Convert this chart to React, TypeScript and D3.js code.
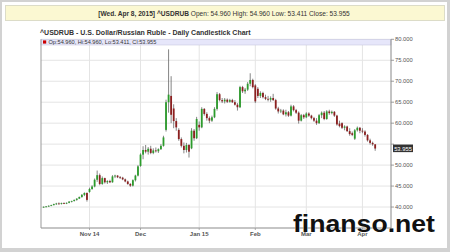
import React from "react";
import * as d3 from "d3";

// Daily OHLC, USDRUB, Oct 8 2014 .. Apr 8 2015 (weekdays)
const opens = [
  39.95, 40.05, 40.15, 40.3, 40.45, 40.7, 40.85, 40.75, 40.95, 40.8, 41.0, 41.3, 41.45, 41.7, 42.0, 42.4, 42.9, 43.35,
  43.6, 44.3, 44.9, 46.5, 47.6, 45.5, 46.9, 45.9, 46.2, 45.9, 47.3, 47.5, 47.1, 47.0, 46.6, 46.1, 45.5, 45.1, 46.4, 47.5,
  49.8, 52.5, 53.6, 53.2, 53.9, 52.9, 53.5, 53.3, 53.8, 54.6, 58.4, 65.0, 66.5, 63.5, 60.5, 58.4, 56.2, 54.6, 53.6, 54.8, 54.0, 58.2, 56.4,
  59.6, 59.0, 63.4, 62.2, 61.2, 60.6, 61.4, 63.4, 66.9, 65.5, 65.2, 65.6, 65.1, 65.5, 65.0, 64.4, 63.8, 68.6, 67.6, 68.0, 69.4, 70.3,
  69.0, 68.2, 66.5, 67.2, 66.2, 65.8, 65.6, 66.0, 65.5, 63.5, 62.8, 63.0, 62.1, 62.6, 61.8, 64.0, 63.1, 62.5, 60.6, 61.9,
  61.4, 62.3, 61.8, 61.2, 60.6, 60.0, 61.9, 62.5, 61.0, 62.8, 62.4, 62.7, 61.8, 59.9, 60.0, 58.9, 59.2, 58.1, 57.6, 56.3, 58.3, 58.9,
  58.2, 58.0, 57.2, 55.9, 55.3, 54.96,
];
const highs = [
  40.15, 40.25, 40.4, 40.55, 40.8, 41.0, 41.1, 41.05, 41.1, 41.1, 41.4, 41.5, 41.8, 42.1, 42.5, 43.1, 43.5, 43.5,
  44.6, 45.2, 46.8, 48.7, 48.0, 47.3, 47.0, 46.4, 46.5, 47.6, 47.7, 47.6, 47.4, 47.2, 46.8, 46.3, 45.7, 46.6, 47.7, 50.0,
  52.8, 54.5, 54.8, 54.3, 54.6, 54.0, 54.2, 54.0, 55.0, 57.0, 65.6, 77.6, 71.2, 64.5, 61.2, 58.8, 56.6, 55.4, 55.3, 55.0, 58.8, 58.6, 61.5,
  60.4, 63.8, 63.6, 62.6, 61.6, 61.8, 63.8, 67.4, 67.2, 66.0, 66.0, 65.9, 65.8, 65.8, 65.5, 64.8, 68.9, 68.9, 68.4, 69.8, 71.9, 70.6,
  69.3, 68.6, 67.6, 67.5, 66.8, 66.5, 66.4, 67.0, 65.8, 63.9, 63.4, 63.3, 63.2, 62.9, 64.4, 64.3, 63.4, 62.8, 62.2, 62.2,
  62.6, 62.6, 62.0, 61.5, 61.2, 62.2, 62.8, 62.9, 63.1, 63.2, 63.0, 62.9, 62.0, 60.6, 60.2, 59.5, 59.4, 58.8, 58.0, 58.6, 59.2, 59.1,
  58.8, 58.3, 57.4, 56.3, 55.6, 54.96,
];
const lows = [
  39.85, 39.95, 40.05, 40.2, 40.4, 40.5, 40.6, 40.6, 40.7, 40.7, 40.9, 41.1, 41.3, 41.5, 41.9, 42.2, 42.6, 41.3,
  43.4, 44.1, 44.7, 46.0, 45.2, 45.3, 45.6, 45.5, 45.7, 45.8, 46.9, 46.9, 46.7, 46.4, 45.9, 45.3, 44.8, 44.9, 46.1, 47.3,
  49.6, 51.4, 52.8, 52.5, 52.6, 52.6, 53.0, 52.9, 53.6, 54.4, 58.0, 62.5, 60.0, 58.8, 58.2, 55.8, 54.2, 52.8, 53.0, 51.8, 53.8, 55.8, 56.2,
  58.2, 58.8, 61.8, 60.6, 60.0, 60.3, 61.2, 63.0, 65.2, 64.8, 64.7, 64.8, 64.9, 64.8, 64.2, 63.0, 63.6, 67.2, 67.0, 67.7, 68.8, 68.3,
  64.8, 66.0, 66.0, 65.9, 65.5, 65.2, 65.1, 65.3, 63.2, 62.3, 62.4, 61.9, 61.6, 61.5, 61.6, 62.8, 62.2, 59.9, 60.4, 61.0,
  61.2, 61.5, 60.9, 60.3, 59.6, 59.8, 61.2, 60.7, 60.8, 62.0, 62.1, 61.5, 59.4, 59.0, 58.6, 58.3, 57.9, 57.0, 56.9, 56.0, 58.0, 57.6,
  57.6, 56.8, 55.6, 54.9, 54.6, 53.411,
];
const closes = [
  40.05, 40.15, 40.3, 40.45, 40.7, 40.85, 40.75, 40.95, 40.8, 41.0, 41.3, 41.45, 41.7, 42.0, 42.4, 42.9, 43.35, 41.7,
  44.3, 44.9, 46.5, 47.6, 45.5, 46.9, 45.9, 46.2, 45.9, 47.3, 47.5, 47.1, 47.0, 46.6, 46.1, 45.5, 45.1, 46.4, 47.5, 49.7,
  52.5, 53.6, 53.2, 53.9, 52.9, 53.5, 53.3, 53.8, 54.6, 56.6, 65.0, 66.8, 62.0, 60.5, 59.0, 56.2, 54.6, 53.6, 54.8, 53.2, 58.2, 56.4, 61.0,
  59.0, 63.4, 62.2, 61.2, 60.6, 61.4, 63.4, 66.9, 65.5, 65.2, 65.6, 65.1, 65.5, 65.0, 64.4, 63.8, 68.6, 67.6, 68.0, 69.4, 70.3, 68.6,
  65.2, 66.5, 67.2, 66.2, 65.8, 65.6, 66.0, 65.5, 63.5, 62.8, 63.0, 62.1, 62.6, 61.8, 64.0, 63.1, 62.5, 60.6, 61.9, 61.4,
  62.3, 61.8, 61.2, 60.6, 60.0, 61.9, 62.5, 61.0, 62.8, 62.4, 62.7, 61.8, 59.7, 59.3, 58.9, 59.2, 58.1, 57.4, 57.2, 58.3, 58.9, 58.2,
  58.0, 57.2, 55.9, 55.3, 54.96, 53.955,
];

const yTicks = [40, 45, 50, 55, 60, 65, 70, 75, 80];
const yTickLabelsShown = [40, 45, 50, 60, 65, 70, 75, 80];
const gridValues = [35, 40, 45, 50, 55, 60, 65, 70, 75, 80];
const monthLabels = ["Nov 14", "Dec", "Jan 15", "Feb", "Mar", "Apr"];
const monthStarts = ["2014-11-01", "2014-12-01", "2015-01-01", "2015-02-01", "2015-03-01", "2015-04-01"];

const headerBold = "[Wed. Apr 8, 2015] ^USDRUB";
const headerRest = " Open: 54.960 High: 54.960 Low: 53.411 Close: 53.955";
const title = "^USDRUB - U.S. Dollar/Russian Ruble - Daily Candlestick Chart";
const legendText = "Op:54.960, Hi:54.960, Lo:53.411, Cl:53.955";
const lastLabel = "53.955";
const watermark = "finanso.net";

const FONT = "'Liberation Sans', Arial, sans-serif";

export default function App() {
  const parse = d3.timeParse("%Y-%m-%d");
  const allDays = d3.timeDay.range(parse("2014-10-08")!, parse("2015-04-09")!);
  const dates = allDays.filter((d) => d.getDay() !== 0 && d.getDay() !== 6);
  const n = Math.min(dates.length, opens.length);

  const left = 41, right = 391, top = 39.3, bottom = 228;
  const x = d3.scaleLinear().domain([-1.02, 136.2]).range([left, right]);
  const y = d3.scaleLinear().domain([35, 80]).range([bottom, top]);

  const monthIdx = monthStarts.map((m) => {
    const t = parse(m)!.getTime();
    return dates.findIndex((d) => d.getTime() >= t);
  });

  const bw = 1.8;
  const green = "#2c9c2c";
  const red = "#8c1f1f";
  const yLast = y(closes[n - 1]);

  return (
    <svg width={450} height={252} style={{ position: "absolute", left: 0, top: 0 }} fontFamily={FONT}>
      <rect x={0} y={0} width={450} height={252} fill="#d2d2d2" />
      <rect x={2} y={2} width={445} height={246} fill="#ffffff" />
      {/* header */}
      <rect x={5.5} y={5.5} width={439} height={15} fill="#fbf8d2" stroke="#dcdcc8" />
      <text x={224} y={15.6} textAnchor="middle" fontSize={6.6} fill="#333">
        <tspan fontWeight="bold">{headerBold}</tspan>
        <tspan>{headerRest}</tspan>
      </text>
      {/* title */}
      <text x={40} y={34.5} fontSize={7} fontWeight="bold" fill="#333">{title}</text>

      {/* grid */}
      {gridValues.map((v) => (
        <line key={"g" + v} x1={left} x2={right} y1={y(v)} y2={y(v)} stroke="#e4e4e4" strokeWidth={1} />
      ))}
      {monthIdx.map((i, k) => (
        <line key={"v" + k} x1={x(i)} x2={x(i)} y1={top} y2={bottom} stroke="#e4e4e4" strokeWidth={1} />
      ))}

      {/* legend band */}
      <rect x={left} y={top} width={right - left} height={5.7} fill="#e6e6fa" stroke="#c8c8e0" strokeWidth={0.6} />
      <rect x={43} y={40.4} width={3.2} height={3.2} fill="#cc0000" />
      <text x={48.5} y={44.2} fontSize={5.6} fill="#333">{legendText}</text>

      {/* candles */}
      {d3.range(n).map((i) => {
        const o = opens[i], h = highs[i], l = lows[i], c = closes[i];
        const up = c >= o;
        const cx = x(i);
        const yt = y(Math.max(o, c));
        const yb = y(Math.min(o, c));
        return (
          <g key={i}>
            <line x1={cx} x2={cx} y1={y(h)} y2={y(l)} stroke="#666" strokeWidth={0.8} />
            <rect x={cx - bw / 2} y={yt} width={bw} height={Math.max(0.8, yb - yt)} fill={up ? green : red} />
          </g>
        );
      })}

      {/* axes */}
      <line x1={left} x2={left} y1={top} y2={bottom} stroke="#999" strokeWidth={1} />
      <line x1={right} x2={right} y1={top} y2={bottom} stroke="#888" strokeWidth={1} />
      <line x1={left} x2={right} y1={bottom} y2={bottom} stroke="#999" strokeWidth={1} />
      {yTicks.map((v) => (
        <line key={"t" + v} x1={right} x2={right + 3} y1={y(v)} y2={y(v)} stroke="#888" strokeWidth={0.8} />
      ))}
      {yTickLabelsShown.map((v) => (
        <text key={"l" + v} x={right + 4} y={y(v) + 2} fontSize={5.8} fill="#555">{v.toFixed(3)}</text>
      ))}
      {monthIdx.map((i, k) => (
        <g key={"m" + k}>
          <line x1={x(i)} x2={x(i)} y1={bottom} y2={bottom + 2} stroke="#999" strokeWidth={0.8} />
          <text x={x(i)} y={235.5} textAnchor="middle" fontSize={6} fontWeight="bold" fill="#555">{monthLabels[k]}</text>
        </g>
      ))}
      {/* last price label */}
      <rect x={right + 2} y={yLast - 4} width={20} height={7.6} fill="#333" />
      <text x={right + 12} y={yLast + 2} textAnchor="middle" fontSize={5.8} fill="#fff">{lastLabel}</text>

      {/* watermark */}
      <text x={293} y={231.5} fontSize={24} fontWeight="bold" fill="#111" stroke="#fff" strokeWidth={0.6}
        paintOrder="stroke" textLength={142} lengthAdjust="spacingAndGlyphs">{watermark}</text>
    </svg>
  );
}
